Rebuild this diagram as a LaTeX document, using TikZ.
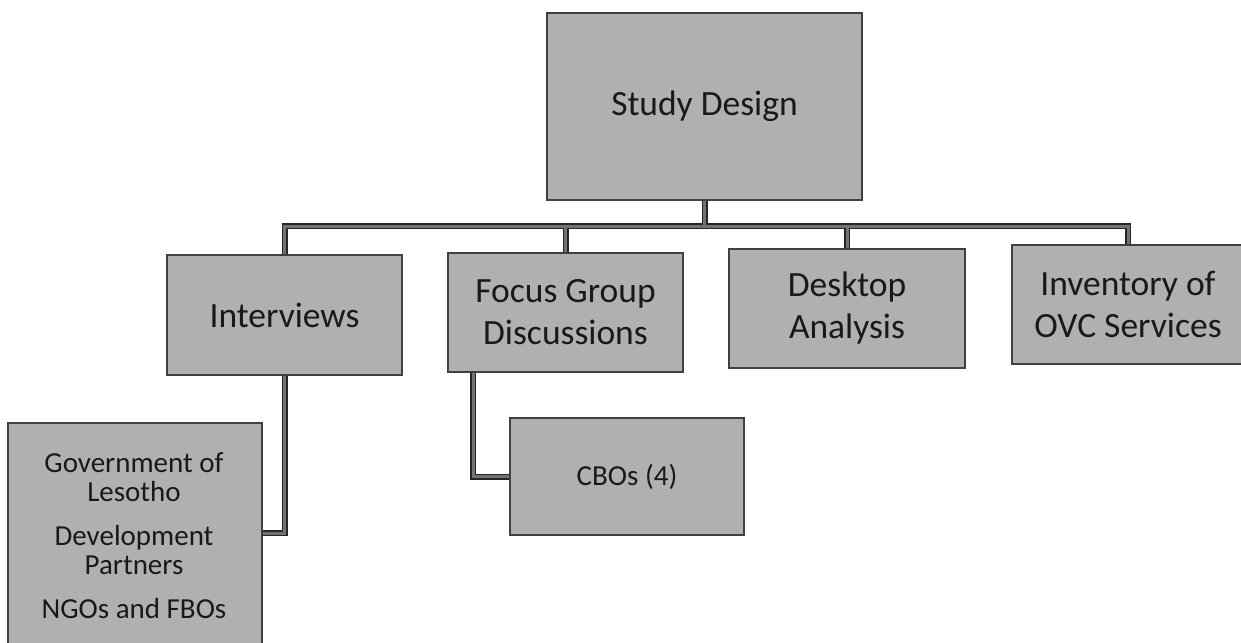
\documentclass[tikz,border=0pt]{standalone}
\usepackage{fontspec}
\setmainfont{Carlito}
\usetikzlibrary{backgrounds}
\tikzset{
  x=1pt, y=-1pt,
  box/.style={draw=black!75, line width=1.2pt, fill=black!31, rectangle,
    inner sep=0pt, align=center, text=black!90,
    font=\fontsize{35.5}{42}\selectfont},
  smalltext/.style={align=center, text=black!90, inner sep=0pt,
    font=\fontsize{29}{28.5}\selectfont},
  connout/.style={draw=black!85, line width=6pt},
  connin/.style={draw=black!55, line width=3pt},
}
\begin{document}
\begin{tikzpicture}
\useasboundingbox (0,0) rectangle (1241,642);
\node[box, minimum width=315pt, minimum height=187pt] (sd) at (704.5,106.5) {Study Design};
\node[box, minimum width=235pt, minimum height=120pt] (int) at (284.5,315) {Interviews};
\node[box, minimum width=235pt, minimum height=119pt] (fgd) at (565.5,312.5) {Focus Group\\Discussions};
\node[box, minimum width=236pt, minimum height=119pt] (desk) at (847,308.5) {Desktop\\Analysis};
\node[box, minimum width=232pt, minimum height=119pt] (inv) at (1128,304.5) {Inventory of\\OVC Services};
\node[box, minimum width=254pt, minimum height=237pt] (gov) at (135,541.5) {};
\node[smalltext] (govtext) at (134,536) {Government of\\Lesotho\\[16pt]Development\\Partners\\[16pt]NGOs and FBOs};
\node[box, minimum width=234pt, minimum height=117pt, font=\fontsize{29}{32}\selectfont] (cbo) at (627,476.5) {CBOs (4)};
\coordinate (bus) at (704.5,226);
\begin{scope}[on background layer]
\fill[white] (0,0) rectangle (1241,642);
\foreach \st in {connout,connin}{
  \draw[style=\st] (sd.south) -- (bus);
  \draw[style=\st] (bus) -| (int.north);
  \draw[style=\st] (bus) -| (fgd.north);
  \draw[style=\st] (bus) -| (desk.north);
  \draw[style=\st] (bus) -| (inv.north);
  \draw[style=\st] (int.south) |- ([yshift=8.5pt]gov.east);
  \draw[style=\st] ([xshift=26pt]fgd.south west) |- (cbo.west);
}
\end{scope}
\end{tikzpicture}
\end{document}
